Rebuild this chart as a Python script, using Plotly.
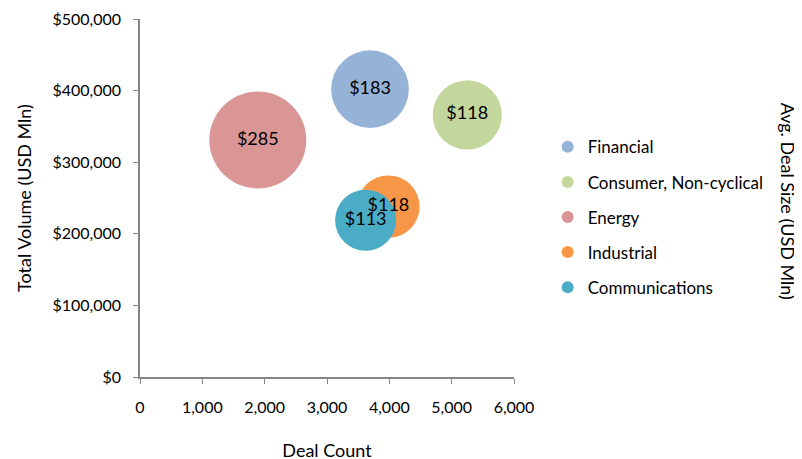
import plotly.graph_objects as go

sectors = ["Financial", "Consumer, Non-cyclical", "Energy", "Industrial", "Communications"]
deal_count = [3690, 5250, 1890, 3985, 3620]
total_volume = [402000, 366000, 331000, 238000, 219000]
avg_deal_label = ["$183", "$118", "$285", "$118", "$113"]
bubble_size = [183, 145, 285, 118, 113]

colors = ["#95B3D7", "#C3D69B", "#D99694", "#F79646", "#4BACC6"]

font_name = "Lato"
axis_grey = "#868686"

# bubble diameter of the largest one, in px
max_diameter = 97
sizeref = 2.0 * max(bubble_size) / max_diameter**2

fig = go.Figure()

for i, name in enumerate(sectors):
    fig.add_trace(go.Scatter(
        x=[deal_count[i]],
        y=[total_volume[i]],
        mode="markers",
        name=name,
        legendgroup=f"g{i}",
        marker=dict(
            size=[bubble_size[i]],
            sizemode="area",
            sizeref=sizeref,
            color=colors[i],
            opacity=1,
            line=dict(width=0),
        ),
        hoverinfo="name",
    ))

# labels drawn last so they sit on top of every bubble
fig.add_trace(go.Scatter(
    x=deal_count,
    y=total_volume,
    mode="text",
    text=avg_deal_label,
    textposition="middle center",
    textfont=dict(family=font_name, size=18, color="black"),
    showlegend=False,
    hoverinfo="skip",
))

fig.update_xaxes(
    range=[0, 6000],
    tickvals=[0, 1000, 2000, 3000, 4000, 5000, 6000],
    tickformat=",d",
    showgrid=False,
    zeroline=False,
    showline=True,
    linecolor=axis_grey,
    linewidth=1.5,
    ticks="outside",
    ticklen=5,
    tickcolor=axis_grey,
    ticklabelstandoff=10,
    tickfont=dict(family=font_name, size=16, color="black"),
    automargin=False,
    title=dict(text="Deal Count", font=dict(family=font_name, size=18, color="black"), standoff=29),
)
fig.update_yaxes(
    range=[0, 500000],
    tickvals=[0, 100000, 200000, 300000, 400000, 500000],
    tickformat="$,d",
    showgrid=False,
    zeroline=False,
    showline=True,
    linecolor=axis_grey,
    linewidth=1.5,
    ticks="outside",
    ticklen=5,
    tickcolor=axis_grey,
    ticklabelstandoff=9,
    tickfont=dict(family=font_name, size=16, color="black"),
    automargin=False,
    title=dict(text="Total Volume (USD Mln)", font=dict(family=font_name, size=18, color="black"), standoff=16),
)

fig.add_annotation(
    text="Avg. Deal Size (USD Mln)",
    xref="paper", yref="paper",
    x=1.735, y=0.49,
    xanchor="center",
    textangle=90,
    showarrow=False,
    font=dict(family=font_name, size=18, color="black"),
)

# the page body adds an 8px offset, so the margins are shifted to compensate
fig.update_layout(
    width=802,
    height=459,
    margin=dict(l=132, r=296, t=11, b=90, autoexpand=False),
    plot_bgcolor="white",
    paper_bgcolor="white",
    font=dict(family=font_name, color="black"),
    legend=dict(
        x=1.09, y=0.692,
        xanchor="left", yanchor="top",
        itemsizing="constant",
        tracegroupgap=10,
        font=dict(family=font_name, size=17, color="black"),
        itemwidth=30,
    ),
)

fig.write_html("out.html")
